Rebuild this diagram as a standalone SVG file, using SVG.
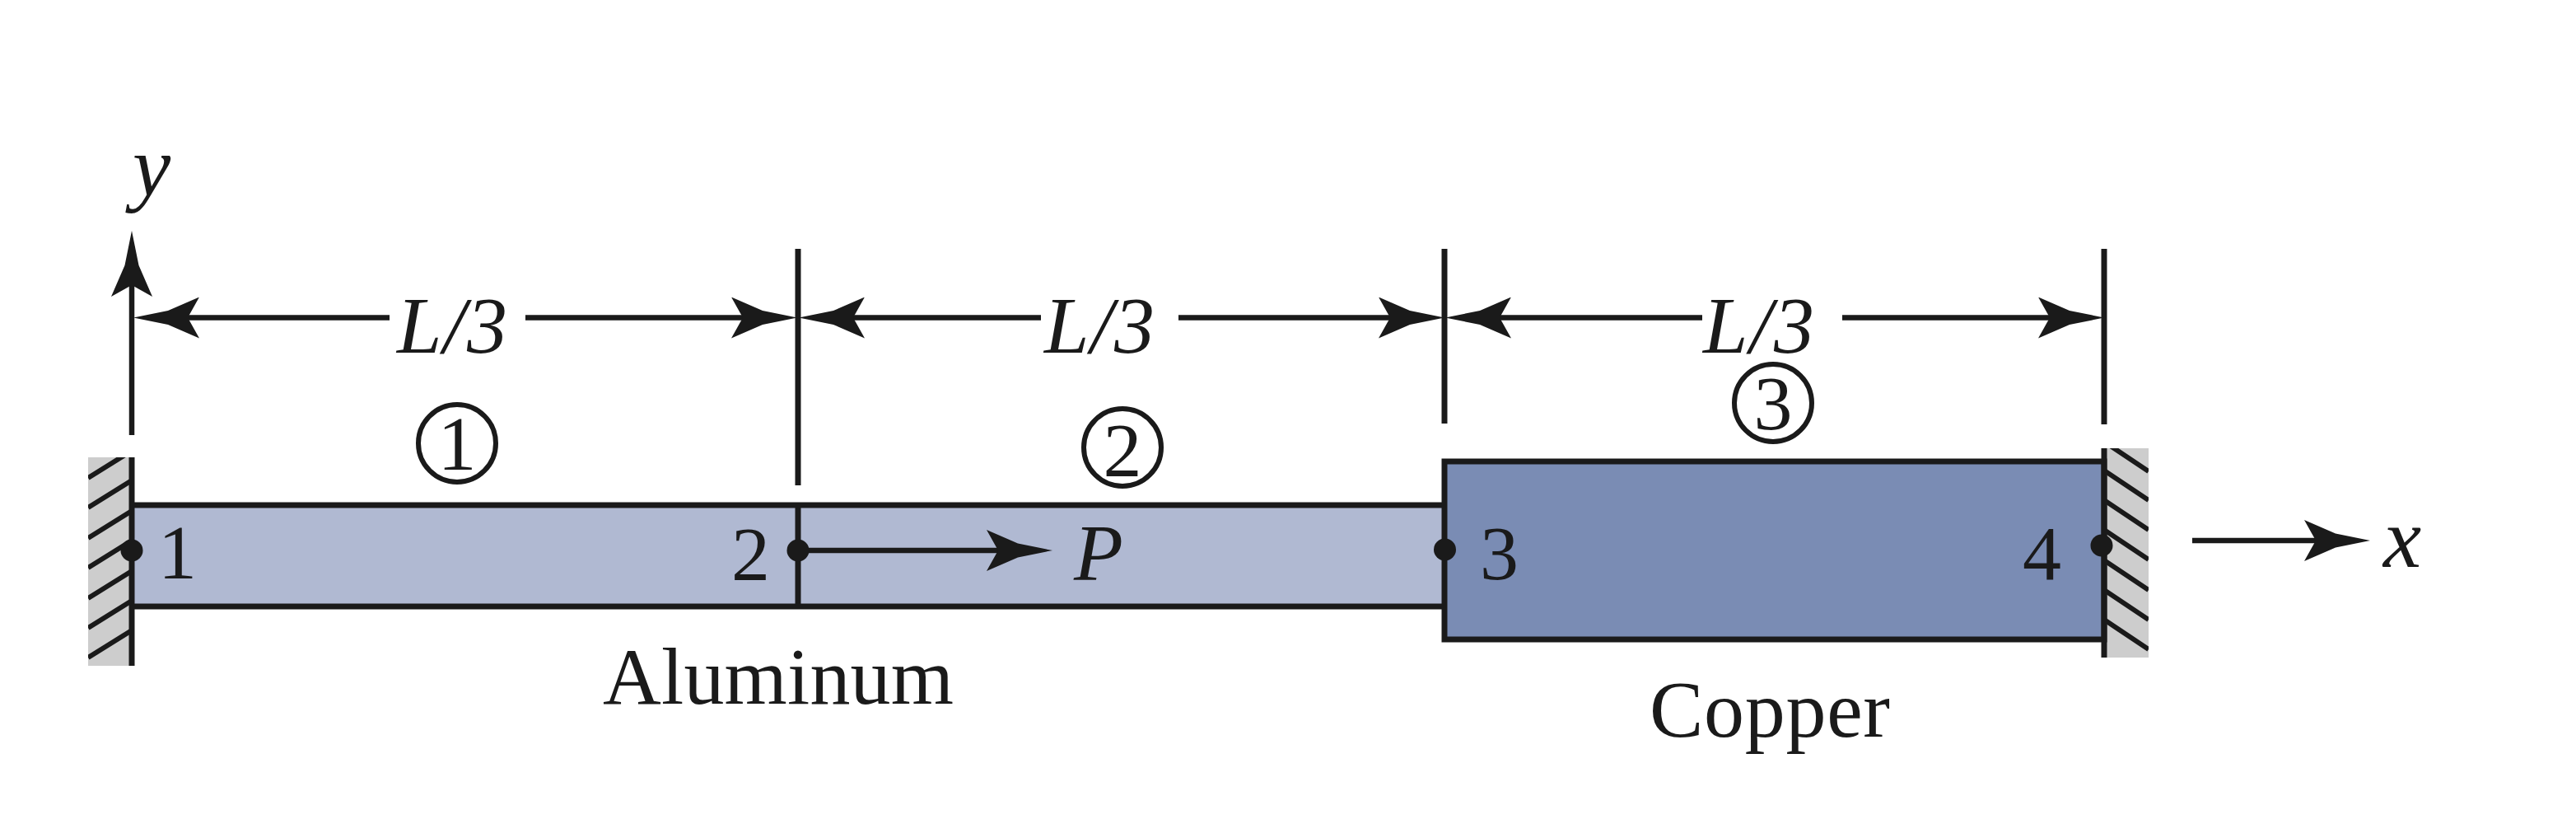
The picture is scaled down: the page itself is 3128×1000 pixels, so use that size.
<svg xmlns="http://www.w3.org/2000/svg" width="3128" height="1000" viewBox="0 0 3128 1000">
<style>
.ln{stroke:#1a1a1a;stroke-width:7;fill:none}
.arw{stroke:#1a1a1a;stroke-width:6.500;fill:none;marker-end:url(#head)}
.hatch{stroke:#1a1a1a;stroke-width:6;fill:none}
.wall{fill:#cdcdcd}
.al{fill:#b0b9d2}
.cu{fill:#7a8cb4}
.dot{fill:#1a1a1a}
.ring{fill:none;stroke:#1a1a1a;stroke-width:6}
text{font-family:"Liberation Serif",serif;fill:#1a1a1a;font-size:94px}
.it{font-style:italic}
.mid{text-anchor:middle}
.big{font-size:98px}
.axis{font-size:104px}
</style>
<defs>
<marker id="head" markerUnits="userSpaceOnUse" viewBox="0 0 80 50" refX="14" refY="25" markerWidth="80" markerHeight="50" orient="auto">
<path d="M0 0L38 16.500L80 25L38 33.500L0 50L14 25Z" fill="#1a1a1a"/>
</marker>
<clipPath id="wl"><rect x="107" y="555" width="53" height="253"/></clipPath>
<clipPath id="wr"><rect x="2555" y="544" width="54" height="254"/></clipPath>
</defs>
<rect width="3128" height="1000" fill="#fff"/>

<g id="wall-left">
<rect class="wall" x="107" y="555" width="53" height="253"/>
<g clip-path="url(#wl)" class="hatch">
<path d="M107 580L160 547M107 616L160 583M107 653L160 620M107 689L160 656M107 726L160 693M107 762L160 729M107 798L160 765"/>
</g>
</g>
<g id="wall-right">
<rect class="wall" x="2555" y="544" width="54" height="254"/>
<g clip-path="url(#wr)" class="hatch">
<path d="M2555 536L2609 572M2555 571L2609 607M2555 607L2609 643M2555 643L2609 679M2555 680L2609 716M2555 716L2609 752M2555 752L2609 788"/>
</g>
</g>
<g id="bar-aluminum">
<rect class="al" x="160" y="613" width="1594" height="123"/>
<path class="ln" d="M160 613H1754M160 736H1754"/>
</g>
<g id="bar-copper">
<rect class="cu ln" style="fill:#7a8cb4" x="1754" y="560" width="801" height="216"/>
</g>

<g id="connectors">
<path class="ln" d="M160 555V808M969 302V589M969 613V738M1754 302V514M2555 302V515M2555 544V798"/>
<line class="arw" x1="160" y1="528" x2="160" y2="346"/>
<line class="arw" x1="473" y1="385.500" x2="228" y2="385.500"/>
<line class="arw" x1="638" y1="385.500" x2="902" y2="385.500"/>
<line class="arw" x1="1264" y1="385.500" x2="1036" y2="385.500"/>
<line class="arw" x1="1431" y1="385.500" x2="1688" y2="385.500"/>
<line class="arw" x1="2067" y1="385.500" x2="1821" y2="385.500"/>
<line class="arw" x1="2237" y1="385.500" x2="2489" y2="385.500"/>
<line class="arw" x1="969" y1="668" x2="1212" y2="668"/>
<line class="arw" x1="2662" y1="656" x2="2812" y2="656"/>
</g>

<g id="node-1"><circle class="dot" cx="160" cy="668" r="13.500"/><text x="192" y="702">1</text></g>
<g id="node-2"><circle class="dot" cx="969" cy="668" r="13.500"/><text x="888" y="704">2</text></g>
<g id="node-3"><circle class="dot" cx="1754.500" cy="667" r="13.500"/><text x="1797" y="703">3</text></g>
<g id="node-4"><circle class="dot" cx="2552" cy="662" r="13.500"/><text x="2456" y="703">4</text></g>

<g id="element-1"><circle class="ring" cx="555" cy="538" r="47"/><text class="mid" x="555" y="570">1</text></g>
<g id="element-2"><circle class="ring" cx="1363" cy="543" r="47"/><text class="mid" x="1363" y="578">2</text></g>
<g id="element-3"><circle class="ring" cx="2153" cy="489" r="47"/><text class="mid" x="2153" y="521">3</text></g>

<g id="labels">
<text class="it big" x="482" y="428" textLength="134" lengthAdjust="spacing">L/3</text>
<text class="it big" x="1268" y="428" textLength="134" lengthAdjust="spacing">L/3</text>
<text class="it big" x="2068" y="428" textLength="135" lengthAdjust="spacing">L/3</text>
<text class="it big" x="1304" y="704">P</text>
<text class="it axis" x="2894" y="688">x</text>
<text class="it axis" x="161" y="237">y</text>
<text class="big" x="732" y="854" textLength="426" lengthAdjust="spacing">Aluminum</text>
<text class="big" x="2003" y="894" textLength="292" lengthAdjust="spacing">Copper</text>
</g>
</svg>
